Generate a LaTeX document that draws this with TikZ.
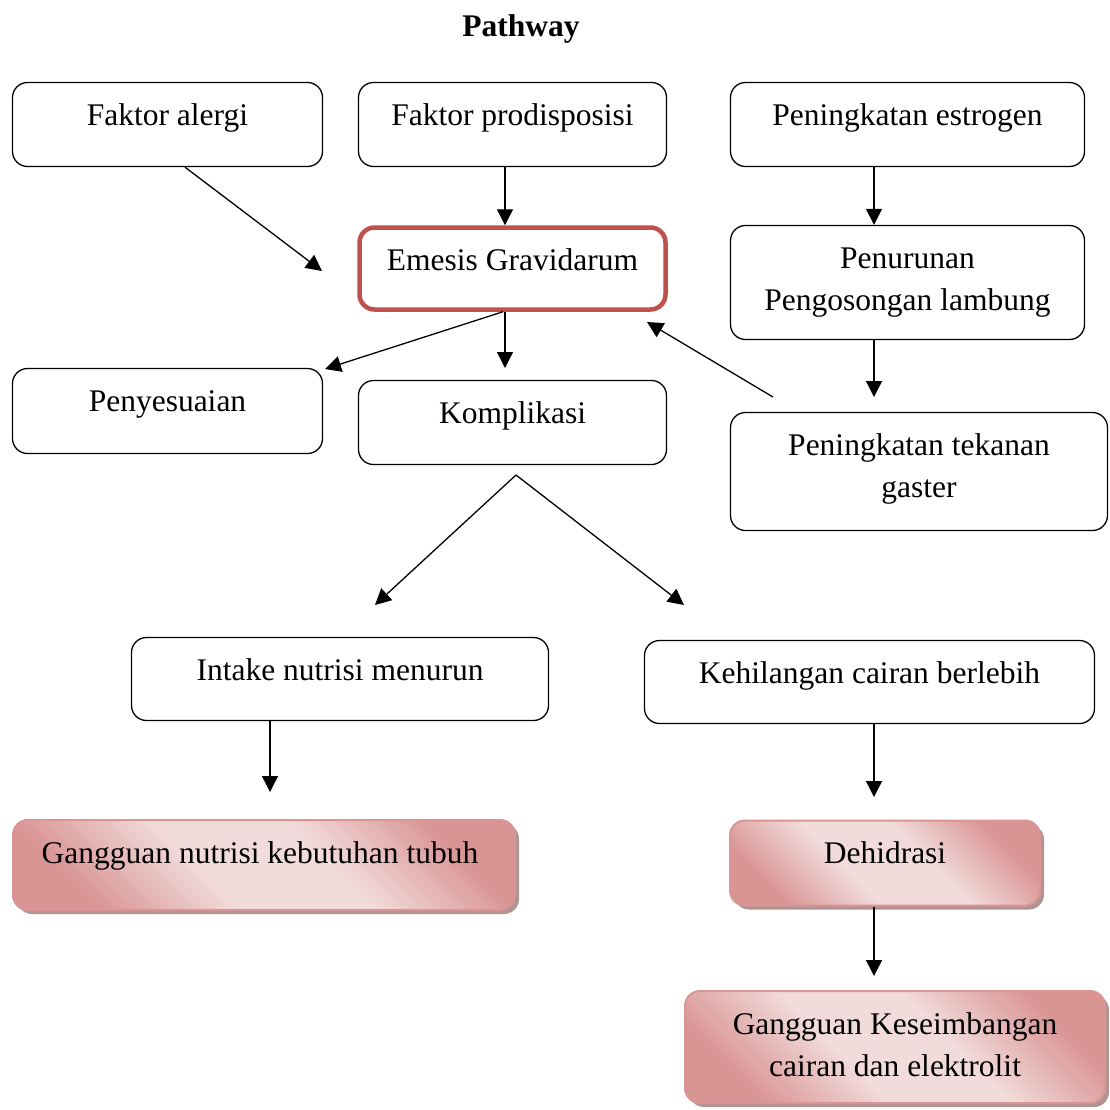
\documentclass[tikz,border=0pt]{standalone}
\usepackage{fontspec}
\setmainfont{Liberation Serif}
\definecolor{EmesisRed}{HTML}{C0504D}
\definecolor{PinkEdge}{HTML}{D99594}
\definecolor{PinkDark}{HTML}{D99594}
\definecolor{PinkLight}{HTML}{F2DBDB}
\definecolor{ShadowRose}{HTML}{B09494}
\usetikzlibrary{arrows.meta,calc,shadows}
\pgfdeclareverticalshading{pinkband}{100bp}{color(0bp)=(PinkDark); color(25bp)=(PinkDark); color(42bp)=(PinkLight); color(58bp)=(PinkLight); color(75bp)=(PinkDark); color(100bp)=(PinkDark)}
\newcommand{\boxtext}[3]{\parbox[c][#2][t]{#1}{\centering\rule{0pt}{43pt}#3}}
\tikzset{
  box/.style={draw=black, line width=1.3pt, rounded corners=15pt, fill=white, inner sep=0pt},
  emesisbox/.style={box, draw=EmesisRed, line width=4.5pt},
  pinkbox/.style={draw=PinkEdge, line width=2pt, rounded corners=15pt, inner sep=0pt, shade, shading=pinkband, shading angle=-45, drop shadow={shadow xshift=4pt, shadow yshift=-4pt, fill=ShadowRose, opacity=1}},
  arrow/.style={-{Triangle[length=16pt,width=16pt]}, line width=1.3pt}
}

\begin{document}
\begin{tikzpicture}[x=1pt, y=-1pt, font=\fontsize{31.5}{42}\selectfont]
\useasboundingbox (0,0) rectangle (1110,1109);
\node[font=\fontsize{31.5}{42}\selectfont\bfseries] (title) at (521,29) {Pathway};

% top row
\node[box] (alergi) at (167.5,124.5) {\boxtext{310pt}{84pt}{Faktor alergi}};
\node[box] (prodisposisi) at (512.5,124.5) {\boxtext{308pt}{84pt}{Faktor prodisposisi}};
\node[box] (estrogen) at (907.5,124.5) {\boxtext{354pt}{84pt}{Peningkatan estrogen}};

% middle
\node[emesisbox] (emesis) at (512.5,268.5) {\boxtext{306pt}{82pt}{Emesis Gravidarum}};
\node[box] (penurunan) at (907.5,282.5) {\boxtext{354pt}{114pt}{Penurunan\\Pengosongan lambung}};
\node[box] (penyesuaian) at (167.5,411) {\boxtext{310pt}{85pt}{Penyesuaian}};
\node[box] (komplikasi) at (512.5,422.5) {\boxtext{308pt}{84pt}{Komplikasi}};
\node[box] (tekanan) at (919,471.5) {\boxtext{377pt}{118pt}{Peningkatan tekanan\\gaster}};

% bottom
\node[box] (intake) at (340,679) {\boxtext{417pt}{83pt}{Intake nutrisi menurun}};
\node[box] (kehilangan) at (869.5,682) {\boxtext{450pt}{83pt}{Kehilangan cairan berlebih}};
\node[pinkbox] (nutrisi) at (264,865) {\boxtext{502pt}{90pt}{Gangguan nutrisi kebutuhan tubuh\hspace*{8pt}}};
\node[pinkbox] (dehidrasi) at (885,863) {\boxtext{310pt}{85pt}{Dehidrasi}};
\node[pinkbox] (keseimbangan) at (895,1047) {\boxtext{420pt}{112pt}{Gangguan Keseimbangan\\cairan dan elektrolit}};

% arrows
\coordinate (alergiTip) at (322,271);
\coordinate (penurunanTip) at (874,397);
\coordinate (tekananOut) at (773,397);
\coordinate (emesisIn) at (647,322);
\coordinate (penyesuaianTip) at (325,369);
\coordinate (komplikasiTip) at (505,368);
\coordinate (fork) at (516,475);
\coordinate (intakeTip) at (375,605);
\coordinate (kehilanganTip) at (684,605);
\coordinate (nutrisiTip) at (270,792);
\coordinate (dehidrasiTip) at (874,797);
\coordinate (keseimbanganTip) at (874,976);

\draw[arrow] ($(alergi.south)+(17.5,0)$) -- (alergiTip);
\draw[arrow] ($(prodisposisi.south)+(-7.5,0)$) -- ($(emesis.north)+(-7.5,0)$);
\draw[arrow] ($(estrogen.south)+(-33.5,0)$) -- ($(penurunan.north)+(-33.5,0)$);
\draw[arrow] (penurunan.south -| penurunanTip) -- (penurunanTip);
\draw[arrow] (tekananOut) -- (emesisIn);
\draw[arrow] ($(emesis.south)+(-9.5,0)$) -- (penyesuaianTip);
\draw[arrow] (emesis.south -| komplikasiTip) -- (komplikasiTip);
\draw[arrow] (fork) -- (intakeTip);
\draw[arrow] (fork) -- (kehilanganTip);
\draw[arrow] (intake.south -| nutrisiTip) -- (nutrisiTip);
\draw[arrow] (kehilangan.south -| dehidrasiTip) -- (dehidrasiTip);
\draw[arrow] (dehidrasi.south -| keseimbanganTip) -- (keseimbanganTip);
\end{tikzpicture}
\end{document}
